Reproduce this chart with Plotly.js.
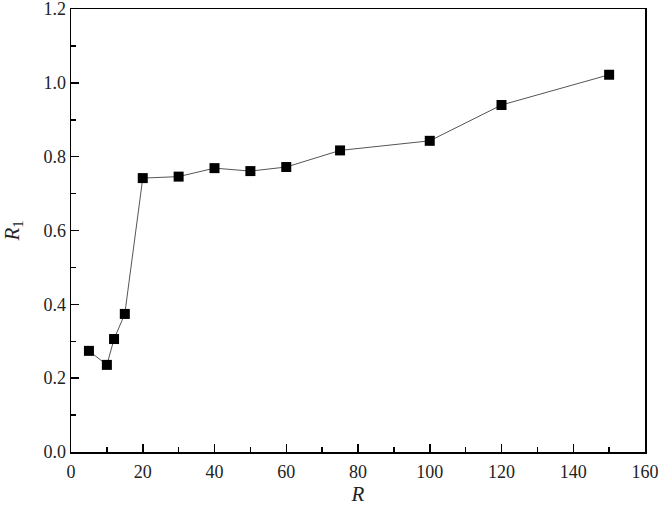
<!DOCTYPE html>
<html>
<head>
<meta charset="utf-8">
<script src="https://cdn.plot.ly/plotly-3.0.1.min.js"></script>
<style>
  html, body { margin: 0; padding: 0; background: #fff; }
  #chart { width: 662px; height: 523px; }
</style>
</head>
<body>
<div id="chart"></div>
<script>
// values
var rValues = [5, 10, 12, 15, 20, 30, 40, 50, 60, 75, 100, 120, 150];
var r1Values = [0.274, 0.236, 0.306, 0.374, 0.742, 0.746, 0.769, 0.761, 0.772, 0.817, 0.843, 0.940, 1.022];
var yTicks = [0, 0.2, 0.4, 0.6, 0.8, 1.0, 1.2];

var font = 'Times New Roman';

var axisStyle = {
    showgrid: false,
    zeroline: false,
    showline: true,
    linecolor: '#000',
    linewidth: 1.5,
    mirror: true,
    ticks: 'inside',
    ticklen: 8,
    tickwidth: 1.5,
    tickcolor: '#000',
    ticklabeloverflow: 'allow',
    tickfont: { family: font, size: 18, color: '#222' }
};

var trace = {
    x: rValues,
    y: r1Values,
    type: 'scatter',
    mode: 'lines+markers',
    line: { color: '#555', width: 1 },
    marker: { symbol: 'square', size: 10, color: '#000' }
};

var layout = {
    width: 662,
    height: 523,
    margin: { l: 71, r: 17, t: 9, b: 71 },
    paper_bgcolor: '#fff',
    plot_bgcolor: '#fff',
    showlegend: false,
    xaxis: Object.assign({}, axisStyle, {
        range: [0, 160],
        dtick: 20,
        ticklabelstandoff: 3,
        minor: { dtick: 10, ticks: 'inside', ticklen: 5, tickwidth: 1.5, tickcolor: '#000' },
        title: { text: '<i>R</i>', font: { family: font, size: 21, color: '#222' }, standoff: 4 }
    }),
    yaxis: Object.assign({}, axisStyle, {
        range: [0, 1.2001],
        tickmode: 'array',
        tickvals: yTicks,
        ticktext: yTicks.map(function (v) { return v.toFixed(1); }),
        minor: { tickmode: 'linear', tick0: 0, dtick: 0.1, ticks: 'inside', ticklen: 5, tickwidth: 1.5, tickcolor: '#000' },
        title: { text: '<i>R</i><sub>1</sub>', font: { family: font, size: 21, color: '#222' }, standoff: 20 }
    })
};

Plotly.newPlot('chart', [trace], layout, { displayModeBar: false, staticPlot: true });
</script>
</body>
</html>
